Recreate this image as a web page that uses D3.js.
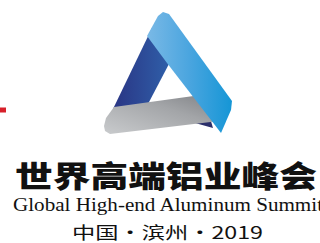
<!DOCTYPE html>
<html>
<head>
<meta charset="utf-8">
<script src="https://cdn.jsdelivr.net/npm/d3@7"></script>
<style>
  html, body { margin: 0; padding: 0; background: #fff; overflow: hidden; }
  svg { display: block; }
</style>
</head>
<body>
<script>
// ロゴの形（ロゴ内のローカル座標）
var darkBand = [[52, 28], [70, 62], [48, 104], [13, 109]];
var greyBand = [[14, 107], [108, 94], [119, 121], [10, 134], [5, 131], [4, 126], [6, 118]];
var blueBand = [[47, 36], [58, 16], [63, 12], [69, 14], [132, 101], [131, 110], [121, 133], [67, 63]];
var shadowBand = [[95, 123], [110, 118], [113, 128]];
var titleCn = ["世界高端铝业峰会"];
var titleEn = ["Global High-end Aluminum Summit"];
var subtitle = ["中国・滨州・2019"];

var width = 320, height = 243;
var svg = d3.select("body").append("svg").attr("width", width).attr("height", height);

var x = d3.scaleLinear().domain([0, 100]).range([100, 200]);
var y = d3.scaleLinear().domain([0, 100]).range([0, 100]);
var line = d3.line().x((d) => x(d[0])).y((d) => y(d[1])).curve(d3.curveLinearClosed);

var defs = svg.append("defs");
function grad(id, stops, x1, y1, x2, y2) {
  var g = defs.append("linearGradient").attr("id", id)
    .attr("x1", x1).attr("y1", y1).attr("x2", x2).attr("y2", y2);
  stops.forEach((s) => g.append("stop").attr("offset", s[0]).attr("stop-color", s[1]));
}
grad("gDark", [[0, "#2a3584"], [1, "#2f5fa9"]], 0, 0, 1, 0);
grad("gGrey", [[0, "#c9cbcd"], [0.6, "#a3a5a8"], [1, "#7d7f83"]], 0, 1, 1, 0);
grad("gBlue", [[0, "#7ab9e6"], [0.5, "#4aa5df"], [1, "#1596d6"]], 0, 0, 1, 0);

// 赤いバー
svg.append("rect").attr("x", 0).attr("y", 107.5).attr("width", 6).attr("height", 5).attr("fill", "#d7202a");

// 三角形
svg.append("path").attr("d", line(darkBand)).attr("fill", "url(#gDark)");
svg.append("path").attr("d", line(shadowBand)).attr("fill", "#2b2f6a");
svg.append("path").attr("d", line(greyBand)).attr("fill", "url(#gGrey)");
svg.append("path").attr("d", line(blueBand)).attr("fill", "url(#gBlue)");

// テキスト
svg.selectAll("text.cn").data(titleCn).enter().append("text")
  .attr("class", "cn")
  .attr("x", 15).attr("y", 187)
  .attr("textLength", 302).attr("lengthAdjust", "spacingAndGlyphs")
  .style("font-family", "'Noto Sans CJK SC'").style("font-weight", 900)
  .style("font-size", "30px").attr("fill", "#111")
  .text((d) => d);

svg.selectAll("text.en").data(titleEn).enter().append("text")
  .attr("class", "en")
  .attr("x", 13).attr("y", 211)
  .attr("textLength", 310).attr("lengthAdjust", "spacingAndGlyphs")
  .style("font-family", "'Liberation Serif'").style("font-size", "19px").attr("fill", "#111")
  .text((d) => d);

svg.selectAll("text.sub").data(subtitle).enter().append("text")
  .attr("class", "sub")
  .attr("x", 72).attr("y", 239)
  .attr("textLength", 191).attr("lengthAdjust", "spacingAndGlyphs")
  .style("font-family", "'Noto Sans CJK SC'").style("font-size", "17px").attr("fill", "#111")
  .text((d) => d);
</script>
</body>
</html>
